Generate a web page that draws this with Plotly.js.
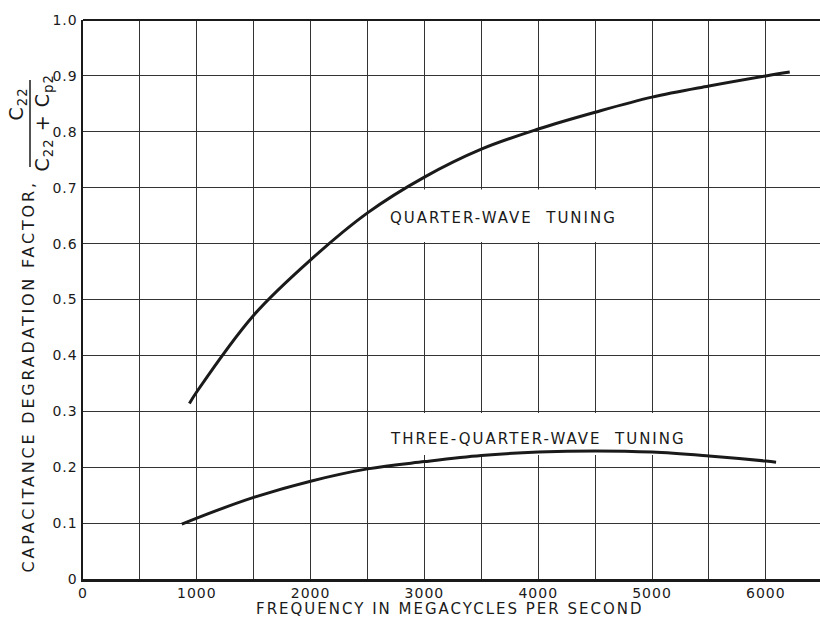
<!DOCTYPE html>
<html>
<head>
<meta charset="utf-8">
<script src="https://cdn.plot.ly/plotly-3.0.1.min.js"></script>
<style>
html,body{margin:0;padding:0;background:#fff;}
#chart{width:820px;height:618px;}
#chart .xtick text, #chart .ytick text{letter-spacing:1px;}
#chart g.annotation text{letter-spacing:2px;}
#chart g.annotation[data-index="2"] text{letter-spacing:2.8px;}
#chart g.annotation[data-index="3"] text, #chart g.annotation[data-index="4"] text{letter-spacing:1px;}
</style>
</head>
<body>
<div id="chart"></div>
<script>
// Quarter-wave tuning curve
const quarterFreq = [935, 1000, 1500, 2000, 2500, 3000, 3500, 4000, 4500, 5000, 5500, 6000, 6210];
const quarterFactor = [0.314, 0.335, 0.472, 0.571, 0.655, 0.719, 0.769, 0.805, 0.835, 0.862, 0.882, 0.900, 0.907];
// Three-quarter-wave tuning curve
const threeQuarterFreq = [868, 1000, 1500, 2000, 2500, 3000, 3500, 4000, 4500, 5000, 5500, 6000, 6090];
const threeQuarterFactor = [0.098, 0.109, 0.146, 0.175, 0.197, 0.210, 0.221, 0.227, 0.229, 0.227, 0.220, 0.211, 0.209];

const xTickVals = [0, 1000, 2000, 3000, 4000, 5000, 6000];
const xTickText = ["0", "1000", "2000", "3000", "4000", "5000", "6000"];
const yTickVals = [0, 0.1, 0.2, 0.3, 0.4, 0.5, 0.6, 0.7, 0.8, 0.9, 1.0];
const yTickText = ["0", "0.1", "0.2", "0.3", "0.4", "0.5", "0.6", "0.7", "0.8", "0.9", "1.0"];

const curveLabels = [
  {x: 3692, y: 0.645, text: "QUARTER-WAVE\u00a0\u00a0TUNING"},
  {x: 4000, y: 0.250, text: "THREE-QUARTER-WAVE\u00a0\u00a0TUNING"}
];

const ink = "#1a1a1a";
const fontFam = "DejaVu Sans, sans-serif";

const traces = [
  {x: quarterFreq, y: quarterFactor, mode: "lines", line: {color: ink, width: 3, shape: "spline", smoothing: 1}, hoverinfo: "skip"},
  {x: threeQuarterFreq, y: threeQuarterFactor, mode: "lines", line: {color: ink, width: 3, shape: "spline", smoothing: 1}, hoverinfo: "skip"}
];

const annotations = curveLabels.map(l => ({
  x: l.x, y: l.y, xref: "x", yref: "y", text: l.text, showarrow: false,
  font: {family: fontFam, size: 15, color: ink}
}));

function px2paperX(p){ return (p - 83) / 737; }
function px2paperY(p){ return (579 - p) / 559; }

annotations.push(
  {xref: "paper", yref: "paper", x: px2paperX(28), y: px2paperY(377), text: "CAPACITANCE DEGRADATION FACTOR,",
   textangle: -90, showarrow: false, xanchor: "center", yanchor: "middle",
   font: {family: fontFam, size: 16, color: ink}},
  {xref: "paper", yref: "paper", x: px2paperX(18), y: px2paperY(104), text: "C<sub>22</sub>",
   textangle: -90, showarrow: false, xanchor: "center", yanchor: "middle",
   font: {family: fontFam, size: 19, color: ink}},
  {xref: "paper", yref: "paper", x: px2paperX(44), y: px2paperY(123), text: "C<sub>22</sub> + C<sub>p2</sub>",
   textangle: -90, showarrow: false, xanchor: "center", yanchor: "middle",
   font: {family: fontFam, size: 19, color: ink}},
  {xref: "paper", yref: "paper", x: px2paperX(450), y: px2paperY(609), text: "FREQUENCY IN MEGACYCLES PER SECOND",
   showarrow: false, xanchor: "center", yanchor: "middle",
   font: {family: fontFam, size: 15, color: ink}}
);

const layout = {
  width: 820, height: 618,
  margin: {l: 83, r: 0, t: 20, b: 39},
  paper_bgcolor: "#ffffff", plot_bgcolor: "#ffffff",
  showlegend: false,
  font: {family: fontFam, size: 14, color: ink},
  xaxis: {
    range: [0, 6476], tickvals: xTickVals, ticktext: xTickText,
    showgrid: true, gridcolor: "#333", gridwidth: 1,
    minor: {dtick: 500, tick0: 0, showgrid: true, gridcolor: "#333", gridwidth: 1},
    showline: true, linecolor: ink, linewidth: 2.5, mirror: false,
    zeroline: false, ticks: "", tickfont: {family: fontFam, size: 14, color: ink}
  },
  yaxis: {
    range: [0, 1.0], tickvals: yTickVals, ticktext: yTickText,
    showgrid: true, gridcolor: "#333", gridwidth: 1,
    showline: true, linecolor: ink, linewidth: 2.5, mirror: false,
    zeroline: false, ticks: "", tickfont: {family: fontFam, size: 14, color: ink}
  },
  shapes: [
    // white label panels that interrupt the grid
    {type: "rect", xref: "x", yref: "y", x0: 2512, x1: 4988, y0: 0.603, y1: 0.697,
     fillcolor: "#ffffff", line: {width: 0}, layer: "between"},
    {type: "rect", xref: "x", yref: "y", x0: 2512, x1: 5488, y0: 0.222, y1: 0.297,
     fillcolor: "#ffffff", line: {width: 0}, layer: "between"},
    {type: "line", xref: "paper", yref: "paper", x0: 0, x1: 1, y0: 1, y1: 1, line: {color: ink, width: 2}},
    {type: "line", xref: "paper", yref: "paper", x0: px2paperX(30), x1: px2paperX(30), y0: px2paperY(80), y1: px2paperY(167), line: {color: ink, width: 1.5}}
  ],
  annotations: annotations
};

Plotly.newPlot("chart", traces, layout, {displayModeBar: false, staticPlot: true});
</script>
</body>
</html>
